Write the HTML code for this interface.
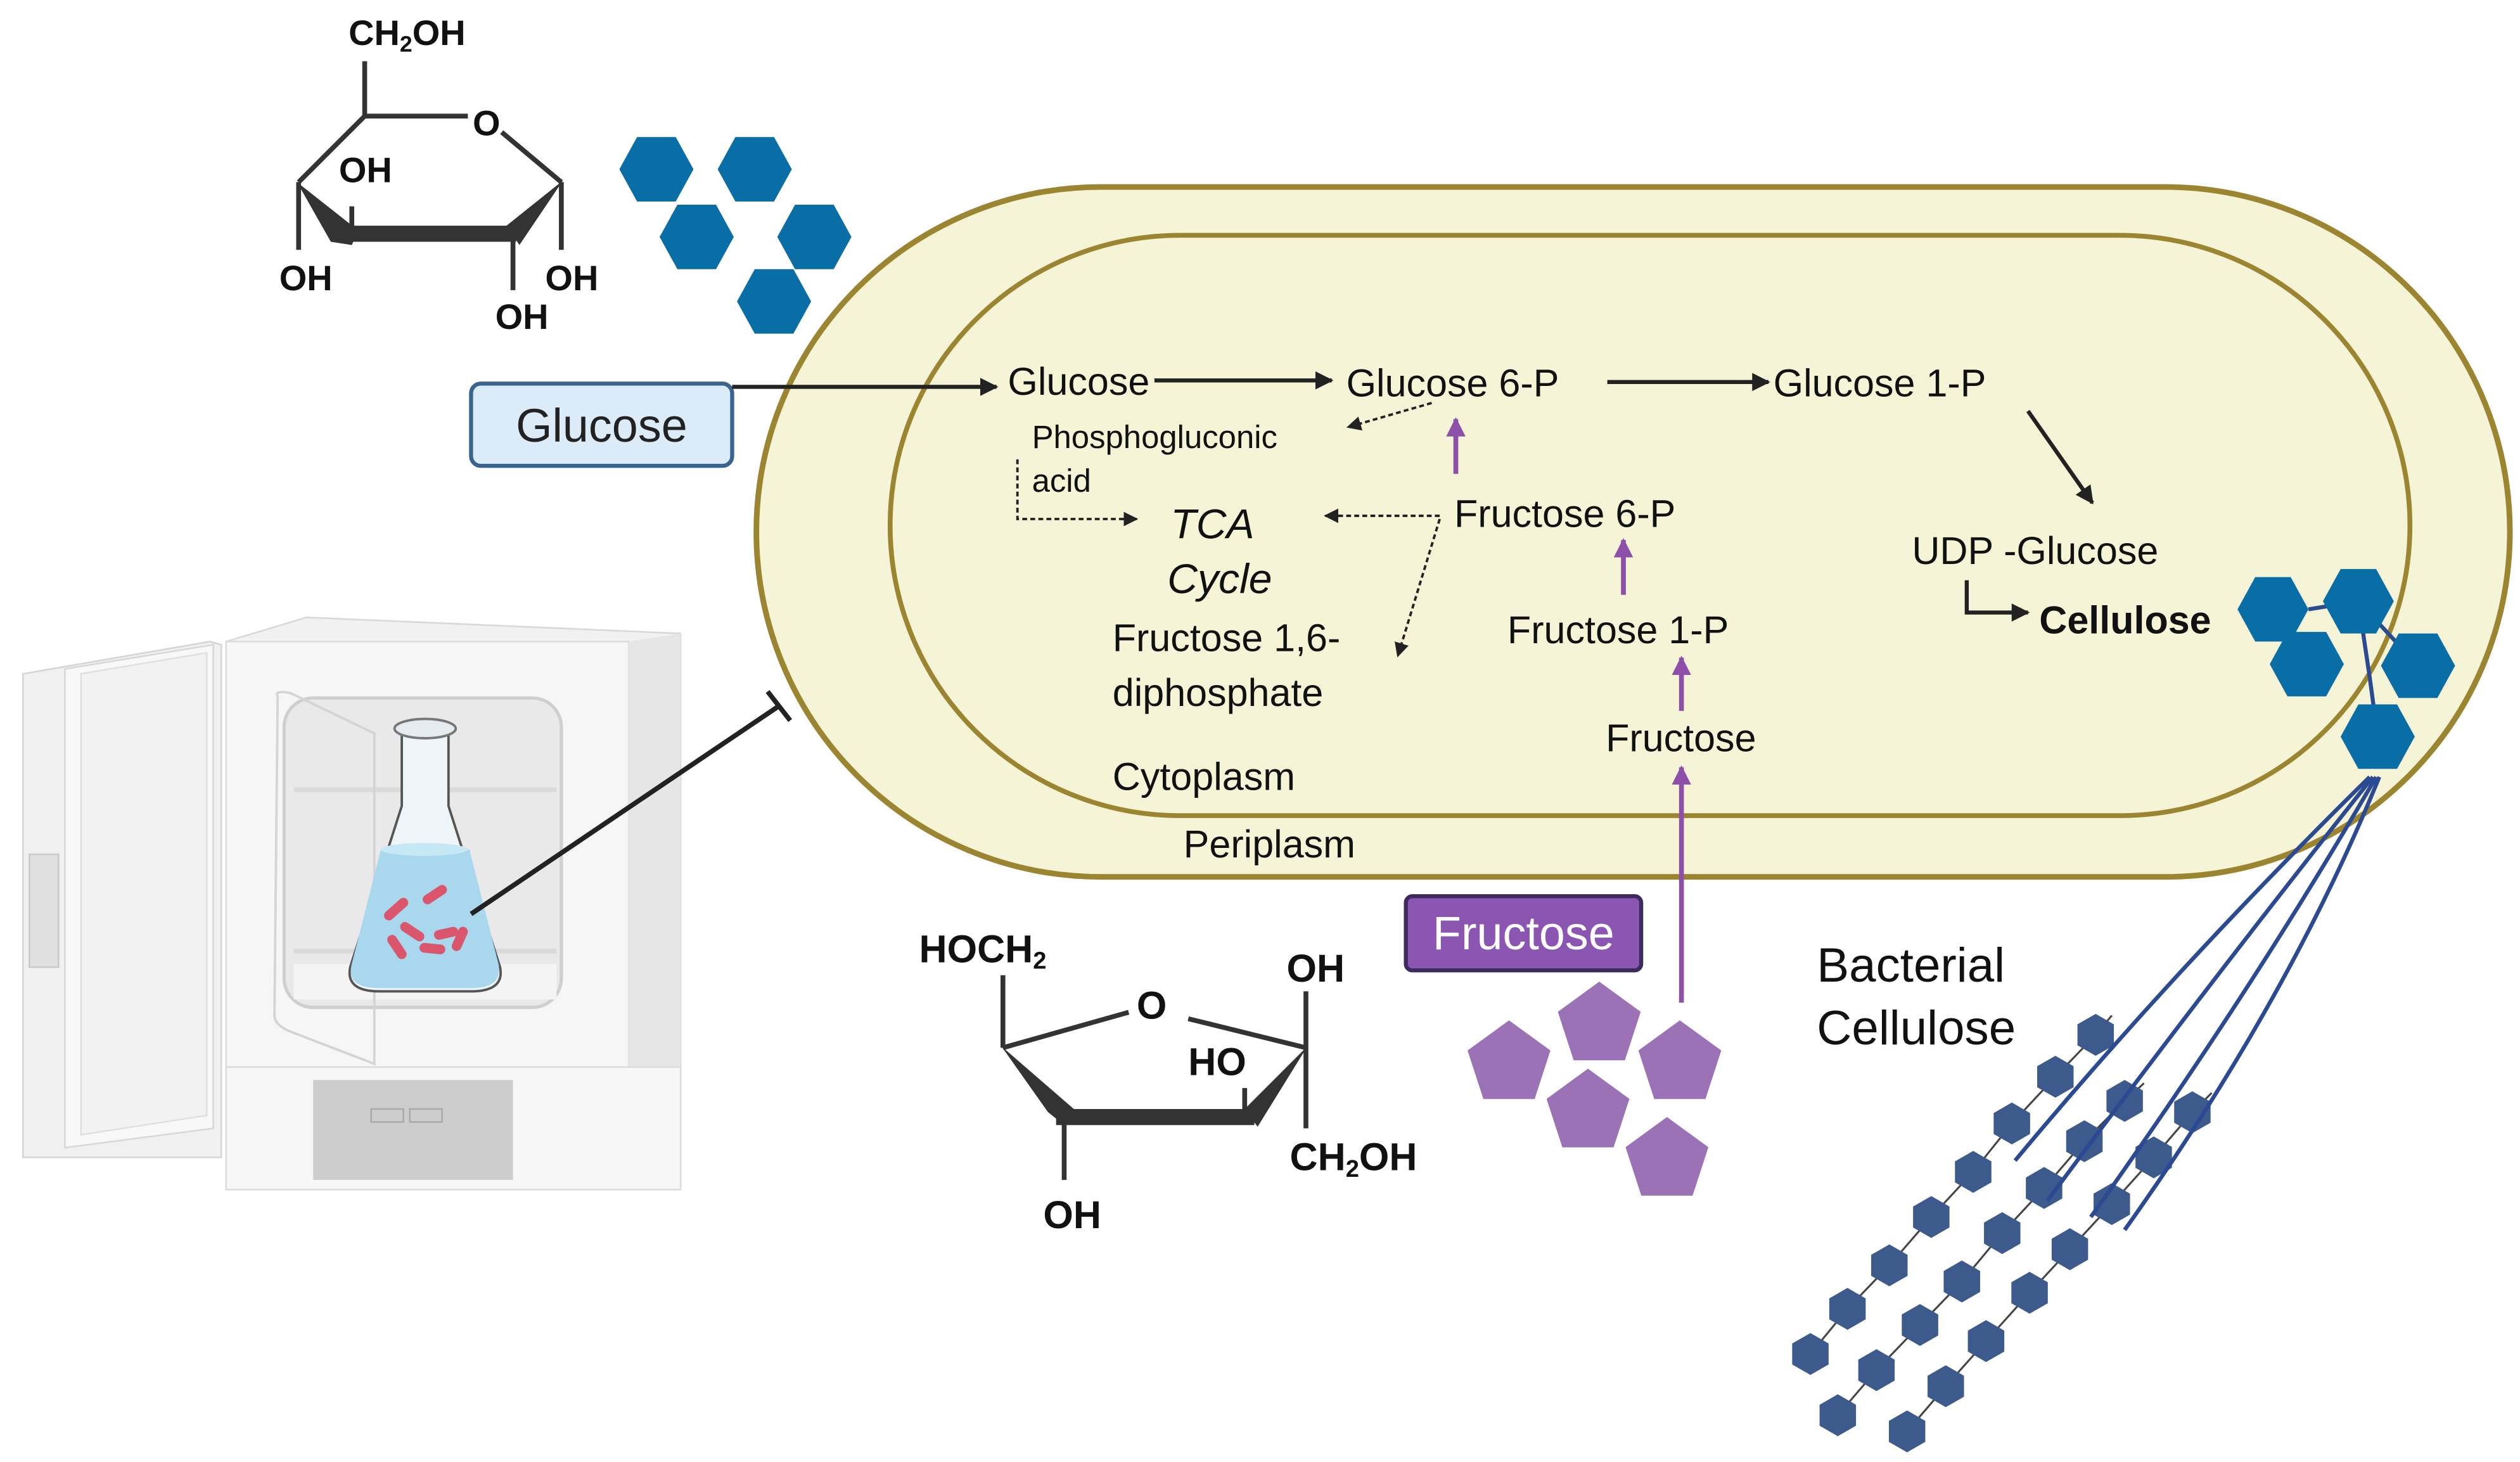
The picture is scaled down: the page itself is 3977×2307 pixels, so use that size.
<!DOCTYPE html>
<html><head><meta charset="utf-8"><style>html,body{margin:0;padding:0;background:#fff}svg{display:block}text{font-family:"Liberation Sans",sans-serif}</style></head>
<body>
<svg width="3977" height="2307" viewBox="0 0 1563 907" xmlns="http://www.w3.org/2000/svg">
<defs>
<marker id="ab" viewBox="0 0 10 10" refX="9" refY="5" markerWidth="4.5" markerHeight="4.5" orient="auto"><path d="M0,0L10,5L0,10z" fill="#222"/></marker>
<marker id="as" viewBox="0 0 10 10" refX="9" refY="5" markerWidth="6" markerHeight="6" orient="auto"><path d="M0,0L10,5L0,10z" fill="#222"/></marker>
<marker id="ap" viewBox="0 0 10 10" refX="9" refY="5" markerWidth="4" markerHeight="4" orient="auto"><path d="M0,0L10,5L0,10z" fill="#8e4fa8"/></marker>
<polygon id="hs" points="0,-13 11.3,-6.5 11.3,6.5 0,13 -11.3,6.5 -11.3,-6.5"/>
<polygon id="pt" points="0,-27 25.7,-8.3 15.9,21.8 -15.9,21.8 -25.7,-8.3"/>
</defs>

<!-- incubator -->
<g>
<polygon points="140,398 190,383 422,393 422,738 140,738" fill="#f1f1f1" stroke="#d8d8d8"/>
<rect x="140" y="398" width="250" height="340" fill="#f6f6f6" stroke="#dcdcdc"/>
<polygon points="390,398 422,393 422,738 390,738" fill="#e6e6e6"/>
<polygon points="14,418 130,398 137,400 137,718 14,718" fill="#f0f0f0" stroke="#d5d5d5"/>
<polygon points="40,415 132,400 132,700 40,712" fill="#f8f8f8" stroke="#d8d8d8"/>
<polygon points="50,418 128,405 128,692 50,704" fill="#f2f2f2" stroke="#e0e0e0"/>
<rect x="18" y="530" width="18" height="70" fill="#e0e0e0" stroke="#c8c8c8"/>
<rect x="176" y="433" width="172" height="192" rx="18" fill="#e9e9e9" stroke="#cfcfcf" stroke-width="2"/>
<line x1="182" y1="490" x2="345" y2="490" stroke="#dadada" stroke-width="3"/>
<line x1="182" y1="590" x2="345" y2="590" stroke="#dadada" stroke-width="3"/>
<rect x="182" y="598" width="163" height="22" fill="#f4f4f4"/>
<path d="M172,432 Q170,428 180,430 L232,455 L232,660 L180,640 Q170,636 170,630 Z" fill="none" stroke="#d4d4d4" stroke-width="1.5"/>
<rect x="140" y="662" width="282" height="76" fill="#f7f7f7" stroke="#dcdcdc"/>
<rect x="194" y="670" width="124" height="62" fill="#cdcdcd"/>
<rect x="230" y="688" width="20" height="8" fill="none" stroke="#aaa"/>
<rect x="254" y="688" width="20" height="8" fill="none" stroke="#aaa"/>
<path d="M249,453 L249,500 L217,600 Q214,615 235,615 L292,615 Q313,615 310,600 L278,500 L278,453 Z" fill="#eef5f9" stroke="#555" stroke-width="1.5"/>
<ellipse cx="263.5" cy="452" rx="19" ry="6" fill="#e4ecf0" stroke="#777" stroke-width="1.5"/>
<path d="M236,527 L291,527 L309,598 Q312,613 292,613 L235,613 Q214,613 218,598 Z" fill="#a9d8ee"/>
<ellipse cx="263" cy="527" rx="27" ry="4" fill="#c6e7f4"/>
<g stroke="#d9566c" stroke-width="6" stroke-linecap="round">
<line x1="241" y1="568" x2="250" y2="560"/><line x1="265" y1="558" x2="274" y2="552"/>
<line x1="251" y1="575" x2="260" y2="581"/><line x1="272" y1="580" x2="281" y2="578"/>
<line x1="243" y1="583" x2="249" y2="592"/><line x1="263" y1="588" x2="273" y2="589"/>
<line x1="283" y1="587" x2="287" y2="578"/>
</g>
</g>
<line x1="292" y1="567" x2="483" y2="438" stroke="#222" stroke-width="3"/>
<line x1="476" y1="429" x2="490" y2="447" stroke="#222" stroke-width="3"/>

<!-- cell -->
<rect x="469" y="116" width="1088" height="428" rx="214" fill="#f6f4d6" stroke="#9c8530" stroke-width="3.5"/>
<rect x="552" y="146" width="943" height="360" rx="180" fill="#f6f4d6" stroke="#9c8530" stroke-width="3"/>

<rect x="292" y="238" width="162" height="51" rx="6" fill="#dcebf8" stroke="#3a638e" stroke-width="2.5"/>
<text x="373" y="274" font-size="29" text-anchor="middle" fill="#222">Glucose</text>
<line x1="454" y1="240" x2="618" y2="240" stroke="#222" stroke-width="2.5" marker-end="url(#ab)"/>

<g font-size="24" fill="#111">
<text x="625" y="245">Glucose</text>
<text x="835" y="246">Glucose 6-P</text>
<text x="1100" y="246">Glucose 1-P</text>
<text x="640" y="278" font-size="20">Phosphogluconic</text>
<text x="640" y="305" font-size="20">acid</text>
<text x="726" y="334" font-size="26" font-style="italic">TCA</text>
<text x="724" y="368" font-size="26" font-style="italic">Cycle</text>
<text x="902" y="327">Fructose 6-P</text>
<text x="690" y="404">Fructose 1,6-</text>
<text x="690" y="438">diphosphate</text>
<text x="935" y="399">Fructose 1-P</text>
<text x="996" y="466">Fructose</text>
<text x="690" y="490">Cytoplasm</text>
<text x="734" y="532">Periplasm</text>
<text x="1186" y="350">UDP -Glucose</text>
<text x="1265" y="393" font-weight="bold">Cellulose</text>
<text x="1127" y="609" font-size="30">Bacterial</text>
<text x="1127" y="648" font-size="30">Cellulose</text>
</g>

<g stroke="#222" stroke-width="2.5" fill="none">
<line x1="716" y1="236" x2="826" y2="236" marker-end="url(#ab)"/>
<line x1="997" y1="237" x2="1097" y2="237" marker-end="url(#ab)"/>
<line x1="1258" y1="255" x2="1298" y2="312" marker-end="url(#ab)"/>
<polyline points="1220,360 1220,380 1258,380" marker-end="url(#ab)"/>
</g>
<g stroke="#222" stroke-width="1.5" fill="none" stroke-dasharray="3,2">
<line x1="888" y1="250" x2="836" y2="265" marker-end="url(#as)"/>
<polyline points="631,285 631,322 705,322" marker-end="url(#as)"/>
<line x1="893" y1="320" x2="822" y2="320" marker-end="url(#as)"/>
<line x1="893" y1="322" x2="867" y2="407" marker-end="url(#as)"/>
</g>
<g stroke="#8e4fa8" stroke-width="3" fill="none">
<line x1="903" y1="294" x2="903" y2="260" marker-end="url(#ap)"/>
<line x1="1007" y1="369" x2="1007" y2="335" marker-end="url(#ap)"/>
<line x1="1043" y1="441" x2="1043" y2="408" marker-end="url(#ap)"/>
<line x1="1043" y1="622" x2="1043" y2="476" marker-end="url(#ap)"/>
</g>

<rect x="872" y="556" width="146" height="46" rx="4" fill="#8b55b2" stroke="#3b2b60" stroke-width="2.5"/>
<text x="945" y="589" font-size="29" text-anchor="middle" fill="#fff">Fructose</text>

<g fill="#9b72b6">
<use href="#pt" x="936" y="660"/><use href="#pt" x="992" y="636"/><use href="#pt" x="1042" y="660"/>
<use href="#pt" x="985" y="690"/><use href="#pt" x="1034" y="720"/>
</g>

<g fill="#0a6ea6">
<polygon points="384,105 395,85 419,85 430,105 419,125 395,125"/>
<polygon points="445,105 456,85 480,85 491,105 480,125 456,125"/>
<polygon points="409,147 420,127 444,127 455,147 444,167 420,167"/>
<polygon points="482,147 493,127 517,127 528,147 517,167 493,167"/>
<polygon points="457,187 468,167 492,167 503,187 492,207 468,207"/>
</g>
<g stroke="#2b4a8f" stroke-width="2.5" fill="none">
<polyline points="1432,378 1463,373 1470,420 1475,457"/>
<line x1="1463" y1="373" x2="1500" y2="413"/>
</g>
<g fill="#0a6ea6">
<polygon points="1388,378 1399,358 1421,358 1432,378 1421,398 1399,398"/>
<polygon points="1441,373 1452,353 1474,353 1485,373 1474,393 1452,393"/>
<polygon points="1408,412 1419,392 1443,392 1454,412 1443,432 1419,432"/>
<polygon points="1477,413 1488,393 1512,393 1523,413 1512,433 1488,433"/>
<polygon points="1452,457 1463,437 1487,437 1498,457 1487,477 1463,477"/>
</g>
<g stroke="#444" stroke-width="1.2" fill="none">
<polyline points="1310,630 1300,642 1275,668 1248,697 1224,727 1198,755 1172,785 1146,812 1123,840"/>
<polyline points="1330,672 1318,683 1293,708 1268,737 1242,765 1217,795 1191,822 1164,850 1140,878"/>
<polyline points="1372,678 1360,690 1336,718 1310,747 1284,775 1259,802 1232,832 1207,860 1183,888"/>
</g>
<g fill="#3d5a8c">
<use href="#hs" x="1300" y="642"/><use href="#hs" x="1275" y="668"/><use href="#hs" x="1248" y="697"/><use href="#hs" x="1224" y="727"/><use href="#hs" x="1198" y="755"/><use href="#hs" x="1172" y="785"/><use href="#hs" x="1146" y="812"/><use href="#hs" x="1123" y="840"/>
<use href="#hs" x="1318" y="683"/><use href="#hs" x="1293" y="708"/><use href="#hs" x="1268" y="737"/><use href="#hs" x="1242" y="765"/><use href="#hs" x="1217" y="795"/><use href="#hs" x="1191" y="822"/><use href="#hs" x="1164" y="850"/><use href="#hs" x="1140" y="878"/>
<use href="#hs" x="1360" y="690"/><use href="#hs" x="1336" y="718"/><use href="#hs" x="1310" y="747"/><use href="#hs" x="1284" y="775"/><use href="#hs" x="1259" y="802"/><use href="#hs" x="1232" y="832"/><use href="#hs" x="1207" y="860"/><use href="#hs" x="1183" y="888"/>
</g>
<g stroke="#2b4a92" stroke-width="2.5" fill="none">
<path d="M1470,482 Q1350,600 1250,720"/>
<path d="M1472,482 Q1370,610 1270,745"/>
<path d="M1474,482 Q1400,610 1297,755"/>
<path d="M1476,482 Q1420,620 1318,763"/>
</g>

<g stroke="#333" stroke-width="3" fill="none">
<line x1="226" y1="38" x2="226" y2="72"/>
<line x1="226" y1="72" x2="290" y2="72"/>
<line x1="311" y1="82" x2="348" y2="113"/>
<line x1="226" y1="72" x2="185" y2="113"/>
<line x1="185" y1="113" x2="185" y2="155"/>
<line x1="218" y1="128" x2="218" y2="148"/>
<line x1="348" y1="113" x2="348" y2="155"/>
<line x1="318" y1="150" x2="318" y2="180"/>
</g>
<polygon points="184,113 222,143 218,152 205,150" fill="#333"/>
<polygon points="212,140 320,140 320,150 212,150" fill="#333"/>
<polygon points="314,140 349,112 322,152" fill="#333"/>
<g font-weight="bold" font-size="22" fill="#111">
<text x="216" y="28">CH<tspan font-size="14" dy="4">2</tspan><tspan dy="-4">OH</tspan></text>
<text x="293" y="84">O</text>
<text x="210" y="113">OH</text>
<text x="173" y="180">OH</text>
<text x="338" y="180">OH</text>
<text x="307" y="204">OH</text>
</g>

<g stroke="#333" stroke-width="3" fill="none">
<line x1="622" y1="605" x2="622" y2="650"/>
<line x1="622" y1="650" x2="700" y2="628"/>
<line x1="737" y1="632" x2="810" y2="650"/>
<line x1="810" y1="615" x2="810" y2="700"/>
<line x1="660" y1="693" x2="660" y2="732"/>
<line x1="772" y1="675" x2="772" y2="693"/>
</g>
<polygon points="621,649 666,688 660,698 650,690" fill="#333"/>
<polygon points="655,688 778,688 778,698 655,698" fill="#333"/>
<polygon points="772,688 811,649 780,699" fill="#333"/>
<g font-weight="bold" font-size="24" fill="#111">
<text x="570" y="597">HOCH<tspan font-size="15" dy="4">2</tspan></text>
<text x="705" y="632">O</text>
<text x="798" y="609">OH</text>
<text x="737" y="667">HO</text>
<text x="800" y="726">CH<tspan font-size="15" dy="4">2</tspan><tspan dy="-4">OH</tspan></text>
<text x="647" y="762">OH</text>
</g>
</svg>
</body></html>
